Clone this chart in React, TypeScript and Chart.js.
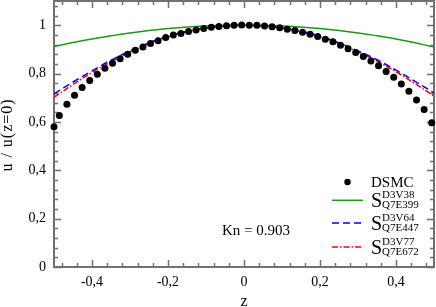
import React, { useEffect, useRef } from 'react';
import { Chart, registerables } from 'chart.js';

Chart.register(...registerables);

const FONT = "'Liberation Serif', 'Times New Roman', Times, serif";
const AXIS_COLOR = '#707070';

// DSMC samples (z, u/u(z=0))
const zDsmc = [
  -0.5, -0.486, -0.466, -0.446, -0.426, -0.406, -0.386, -0.366, -0.346, -0.326,
  -0.306, -0.286, -0.266, -0.246, -0.226, -0.206, -0.186, -0.166, -0.146, -0.126,
  -0.106, -0.086, -0.066, -0.046, -0.026, -0.006, 0.014, 0.034, 0.054, 0.074,
  0.094, 0.114, 0.134, 0.154, 0.174, 0.194, 0.214, 0.234, 0.254, 0.274,
  0.294, 0.314, 0.334, 0.354, 0.374, 0.394, 0.414, 0.434, 0.454, 0.474, 0.494,
];
const uDsmc = [
  0.58, 0.626, 0.673, 0.71, 0.742, 0.771, 0.797, 0.822, 0.843, 0.861,
  0.88, 0.896, 0.91, 0.924, 0.936, 0.949, 0.959, 0.966, 0.974, 0.98,
  0.986, 0.991, 0.995, 0.998, 1.0, 1.001, 1.0, 1.0, 0.997, 0.994,
  0.989, 0.983, 0.978, 0.971, 0.963, 0.953, 0.942, 0.931, 0.917, 0.903,
  0.887, 0.87, 0.852, 0.832, 0.808, 0.785, 0.757, 0.727, 0.691, 0.651, 0.597,
];

// Model curves
const zLine = [
  -0.5, -0.45, -0.4, -0.35, -0.3, -0.25, -0.2, -0.15, -0.1, -0.05, 0,
  0.05, 0.1, 0.15, 0.2, 0.25, 0.3, 0.35, 0.4, 0.45, 0.5,
];
const uD3V38 = [
  0.912, 0.928, 0.943, 0.956, 0.968, 0.978, 0.986, 0.992, 0.997, 0.999, 1.0,
  0.999, 0.997, 0.992, 0.986, 0.978, 0.968, 0.956, 0.943, 0.927, 0.91,
];
const uD3V64 = [
  0.716, 0.765, 0.811, 0.855, 0.893, 0.927, 0.954, 0.975, 0.989, 0.997, 1.0,
  0.997, 0.989, 0.975, 0.954, 0.927, 0.894, 0.857, 0.814, 0.768, 0.72,
];
const uD3V77 = [
  0.702, 0.755, 0.804, 0.849, 0.889, 0.923, 0.952, 0.973, 0.988, 0.997, 1.0,
  0.997, 0.988, 0.973, 0.952, 0.924, 0.89, 0.851, 0.807, 0.758, 0.707,
];

// Axis ticks
const xTickValues = [
  -0.48, -0.44, -0.4, -0.36, -0.32, -0.28, -0.24, -0.2, -0.16, -0.12, -0.08, -0.04, 0,
  0.04, 0.08, 0.12, 0.16, 0.2, 0.24, 0.28, 0.32, 0.36, 0.4, 0.44, 0.48,
];
const xTickLabels: Record<string, string> = { '-0.4': '-0,4', '-0.2': '-0,2', '0': '0', '0.2': '0,2', '0.4': '0,4' };
const yTickValues = [
  0, 0.04, 0.08, 0.12, 0.16, 0.2, 0.24, 0.28, 0.32, 0.36, 0.4, 0.44, 0.48, 0.52,
  0.56, 0.6, 0.64, 0.68, 0.72, 0.76, 0.8, 0.84, 0.88, 0.92, 0.96, 1, 1.04, 1.08,
];
const yTickLabels: Record<string, string> = { '0': '0', '0.2': '0,2', '0.4': '0,4', '0.6': '0,6', '0.8': '0,8', '1': '1' };

const seriesNames = ['DSMC', 'S', 'S', 'S'];
const seriesSup = ['', 'D3V38', 'D3V64', 'D3V77'];
const seriesSub = ['', 'Q7E399', 'Q7E447', 'Q7E672'];
const annotation = 'Kn = 0.903';
const xTitle = 'z';
const yTitle = 'u / u(z=0)';

const COLORS = ['#000000', '#1a9a1a', '#0000ff', '#ff0000'];
const DASHES: number[][] = [[], [], [7, 4], [6, 2, 1.5, 2]];

// plot frame in canvas pixels
const AREA = { left: 54, right: 434, top: 1, bottom: 267 };

const isMajor = (v: number) => Math.abs(Math.round(v * 5) - v * 5) < 1e-6;
const key = (v: number) => String(Math.round(v * 100) / 100);

const decorPlugin = {
  id: 'decor',
  afterLayout(chart: any) {
    const ca = chart.chartArea;
    ca.left = AREA.left;
    ca.right = AREA.right;
    ca.top = AREA.top;
    ca.bottom = AREA.bottom;
    ca.width = AREA.right - AREA.left;
    ca.height = AREA.bottom - AREA.top;
    const x = chart.scales.x;
    x.left = AREA.left;
    x.right = AREA.right;
    x.width = AREA.right - AREA.left;
    x.top = AREA.bottom;
    x.bottom = chart.height;
    x.height = chart.height - AREA.bottom;
    x.paddingLeft = 0;
    x.paddingRight = 0;
    x.configure();
    x._labelItems = null;
    const y = chart.scales.y;
    y.left = 0;
    y.right = AREA.left;
    y.width = AREA.left;
    y.top = AREA.top;
    y.bottom = AREA.bottom;
    y.height = AREA.bottom - AREA.top;
    y.paddingTop = 0;
    y.paddingBottom = 0;
    y.configure();
    y._labelItems = null;
  },
  beforeDatasetsDraw(chart: any) {
    const { ctx, chartArea, scales } = chart;
    const { left, right, top, bottom } = chartArea;
    const x = scales.x;
    const y = scales.y;
    ctx.save();
    ctx.strokeStyle = AXIS_COLOR;
    ctx.lineWidth = 1.5;
    ctx.beginPath();
    x.ticks.forEach((t: any) => {
      const px = Math.round(x.getPixelForValue(t.value)) + 0.5;
      const len = isMajor(t.value) ? 7 : 4;
      ctx.moveTo(px, bottom);
      ctx.lineTo(px, bottom - len);
      ctx.moveTo(px, top);
      ctx.lineTo(px, top + len);
    });
    y.ticks.forEach((t: any) => {
      const py = Math.round(y.getPixelForValue(t.value)) + 0.5;
      const len = isMajor(t.value) ? 7 : 4;
      ctx.moveTo(left, py);
      ctx.lineTo(left + len, py);
      ctx.moveTo(right, py);
      ctx.lineTo(right - len, py);
    });
    ctx.stroke();
    ctx.lineWidth = 2;
    ctx.strokeRect(left, top, right - left, bottom - top);
    ctx.restore();
  },
  afterDraw(chart: any) {
    const { ctx, chartArea } = chart;
    const { left, right, top, bottom } = chartArea;
    ctx.save();
    ctx.fillStyle = '#000';
    // axis titles
    ctx.font = `16px ${FONT}`;
    ctx.textAlign = 'center';
    ctx.textBaseline = 'alphabetic';
    ctx.fillText(xTitle, (left + right) / 2, 306);
    ctx.save();
    ctx.translate(11.5, (top + bottom) / 2 + 1);
    ctx.rotate(-Math.PI / 2);
    try { (ctx as any).letterSpacing = '1px'; } catch (e) {}
    ctx.fillText(yTitle, 0, 0);
    ctx.restore();

    // annotation
    ctx.font = `15px ${FONT}`;
    ctx.textAlign = 'left';
    ctx.fillText(annotation, 222, 234.5);

    // legend
    const rowsY = [182, 200.3, 223, 247];
    const sx0 = 332, sx1 = 363, tx = 371;
    rowsY.forEach((ry, i) => {
      ctx.save();
      if (i === 0) {
        ctx.beginPath();
        ctx.arc((sx0 + sx1) / 2, ry, 3.2, 0, Math.PI * 2);
        ctx.fillStyle = COLORS[0];
        ctx.fill();
        ctx.fillStyle = '#000';
        ctx.font = `15px ${FONT}`;
        ctx.fillText(seriesNames[0], tx, ry + 5.3);
      } else {
        ctx.strokeStyle = COLORS[i];
        ctx.lineWidth = 1.5;
        ctx.setLineDash(DASHES[i]);
        ctx.beginPath();
        ctx.moveTo(sx0, ry);
        ctx.lineTo(sx1, ry);
        ctx.stroke();
        ctx.setLineDash([]);
        ctx.fillStyle = '#000';
        ctx.font = `20px ${FONT}`;
        ctx.fillText(seriesNames[i], tx, ry + 6.8);
        const w = ctx.measureText(seriesNames[i]).width;
        ctx.font = `11px ${FONT}`;
        ctx.fillText(seriesSup[i], tx + w, ry - 2.2);
        ctx.fillText(seriesSub[i], tx + w, ry + 7.8);
      }
      ctx.restore();
    });
    ctx.restore();
  },
};

export default function App() {
  const ref = useRef<HTMLCanvasElement>(null);
  useEffect(() => {
    if (!ref.current) return;
    const lineSet = (data: number[], i: number) => ({
      label: seriesSup[i],
      data: zLine.map((z, k) => ({ x: z, y: data[k] })),
      showLine: true,
      pointRadius: 0,
      borderColor: COLORS[i],
      backgroundColor: COLORS[i],
      borderWidth: 1.5,
      borderDash: DASHES[i],
      tension: 0.4,
      fill: false,
    });
    const chart = new Chart(ref.current, {
      type: 'scatter',
      data: {
        datasets: [
          {
            label: seriesNames[0],
            data: zDsmc.map((z, k) => ({ x: z, y: uDsmc[k] })),
            pointRadius: 3.5,
            pointBackgroundColor: '#000',
            pointBorderWidth: 0,
            backgroundColor: '#000',
            borderColor: '#000',
            showLine: false,
            clip: false as any,
          },
          lineSet(uD3V38, 1),
          lineSet(uD3V64, 2),
          lineSet(uD3V77, 3),
        ] as any,
      },
      options: {
        responsive: false,
        animation: false,
        layout: { padding: 0 },
        plugins: { legend: { display: false }, tooltip: { enabled: false } },
        events: [],
        scales: {
          x: {
            type: 'linear',
            min: -0.5,
            max: 0.5,
            grid: { display: false, drawTicks: false },
            border: { display: false },
            afterBuildTicks: (s: any) => {
              s.ticks = xTickValues.map((v) => ({ value: v }));
            },
            ticks: {
              autoSkip: false,
              maxRotation: 0,
              padding: 7,
              color: '#000',
              font: { family: FONT, size: 14 },
              callback: (v: any) => xTickLabels[key(Number(v))] ?? '',
            },
          },
          y: {
            type: 'linear',
            min: 0,
            max: 1.1,
            grid: { display: false, drawTicks: false },
            border: { display: false },
            afterBuildTicks: (s: any) => {
              s.ticks = yTickValues.map((v) => ({ value: v }));
            },
            ticks: {
              autoSkip: false,
              padding: 8,
              color: '#000',
              font: { family: FONT, size: 14 },
              callback: (v: any) => yTickLabels[key(Number(v))] ?? '',
            },
          },
        },
      },
      plugins: [decorPlugin],
    });
    return () => chart.destroy();
  }, []);
  return (
    <div style={{ position: 'fixed', left: 0, top: 0, width: 436, height: 307, background: '#fff' }}>
      <canvas ref={ref} width={436} height={307} style={{ display: 'block' }} />
    </div>
  );
}
